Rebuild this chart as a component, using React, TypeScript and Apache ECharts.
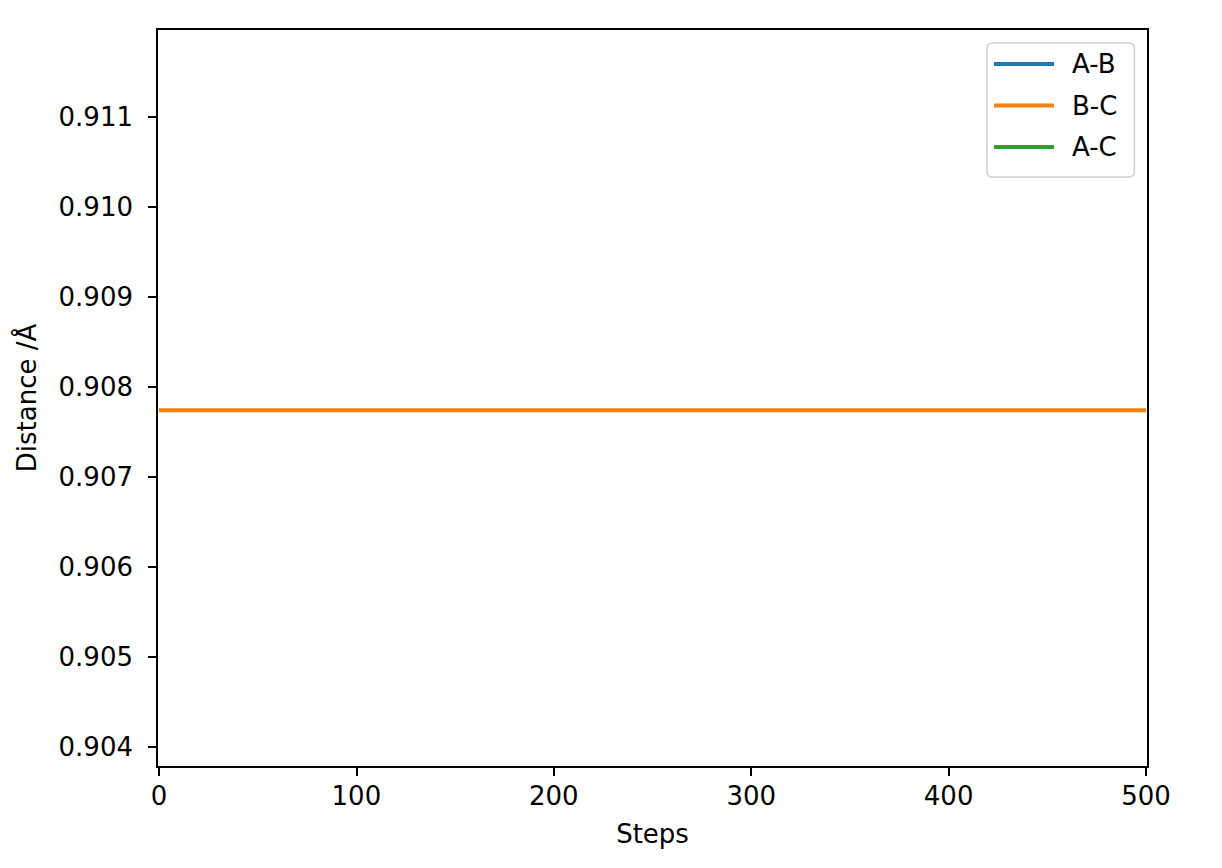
import React, { useEffect, useRef } from "react";
import * as echarts from "echarts";

// Steps at which the distances are plotted (the B-C distance is constant)
const steps = [0, 100, 200, 300, 400, 500];
const abValues: number[] = [];
const bcValues = [0.90774, 0.90774, 0.90774, 0.90774, 0.90774, 0.90774];
const acValues: number[] = [];

const seriesNames = ["A-B", "B-C", "A-C"];
const seriesColors = ["#1f77b4", "#ff7f0e", "#2ca02c"];

const xTicks = [0, 100, 200, 300, 400, 500];
const yTicks = [0.904, 0.905, 0.906, 0.907, 0.908, 0.909, 0.91, 0.911];
const xRange = [-1, 501];
const yRange = [0.903778, 0.911974];

const FONT = "DejaVu Sans";

export default function App() {
  const ref = useRef<HTMLDivElement>(null);

  useEffect(() => {
    if (!ref.current) return;
    const chart = echarts.init(ref.current, undefined, { renderer: "svg" });
    const seriesData = [abValues, bcValues, acValues];
    const option: any = {
      animation: false,
      backgroundColor: "#ffffff",
      grid: {
        left: 157,
        top: 29,
        width: 991,
        height: 738,
        show: true,
        borderColor: "#000000",
        borderWidth: 2,
        backgroundColor: "#ffffff",
      },
      legend: {
        orient: "vertical",
        left: 987,
        top: 43,
        icon: "rect",
        itemWidth: 60,
        itemHeight: 4,
        itemGap: 11.5,
        padding: [6, 17, 15, 7],
        backgroundColor: "#ffffff",
        borderColor: "#d0d0d0",
        borderWidth: 1.5,
        borderRadius: 5,
        data: seriesNames.map((name, i) => ({
          name,
          itemStyle: { color: seriesColors[i], borderWidth: 0 },
        })),
        textStyle: {
          fontFamily: FONT,
          fontSize: 26,
          lineHeight: 30,
          color: "#000000",
          padding: [0, 0, 0, 13],
        },
      },
      xAxis: {
        type: "value",
        min: xRange[0],
        max: xRange[1],
        name: "Steps",
        nameLocation: "middle",
        nameGap: 54,
        nameTextStyle: { fontFamily: FONT, fontSize: 26, color: "#000000" },
        splitLine: { show: false },
        axisLine: { show: true, onZero: false, lineStyle: { color: "#000000", width: 2 } },
        axisTick: {
          show: true,
          length: 9,
          customValues: xTicks,
          lineStyle: { color: "#000000", width: 2 },
        },
        axisLabel: {
          customValues: xTicks,
          margin: 16,
          fontFamily: FONT,
          fontSize: 26,
          color: "#000000",
          formatter: (v: number) => String(v),
        },
      },
      yAxis: {
        type: "value",
        min: yRange[0],
        max: yRange[1],
        name: "Distance /Å",
        nameLocation: "middle",
        nameGap: 117,
        nameRotate: 90,
        nameTextStyle: { fontFamily: FONT, fontSize: 26, color: "#000000" },
        splitLine: { show: false },
        axisLine: { show: true, onZero: false, lineStyle: { color: "#000000", width: 2 } },
        axisTick: {
          show: true,
          length: 9,
          customValues: yTicks,
          lineStyle: { color: "#000000", width: 2 },
        },
        axisLabel: {
          customValues: yTicks,
          margin: 24,
          fontFamily: FONT,
          fontSize: 26,
          color: "#000000",
          formatter: (v: number) => v.toFixed(3),
        },
      },
      series: seriesNames.map((name, i) => ({
        name,
        type: "line",
        symbol: "none",
        showSymbol: false,
        color: seriesColors[i],
        itemStyle: { color: seriesColors[i] },
        lineStyle: { color: seriesColors[i], width: 4 },
        data: seriesData[i].map((v, j) => [steps[j], v]),
        clip: true,
      })),
    };
    chart.setOption(option);
    return () => chart.dispose();
  }, []);

  return (
    <div
      ref={ref}
      style={{ position: "fixed", left: 0, top: 0, width: 1222, height: 868 }}
    />
  );
}
